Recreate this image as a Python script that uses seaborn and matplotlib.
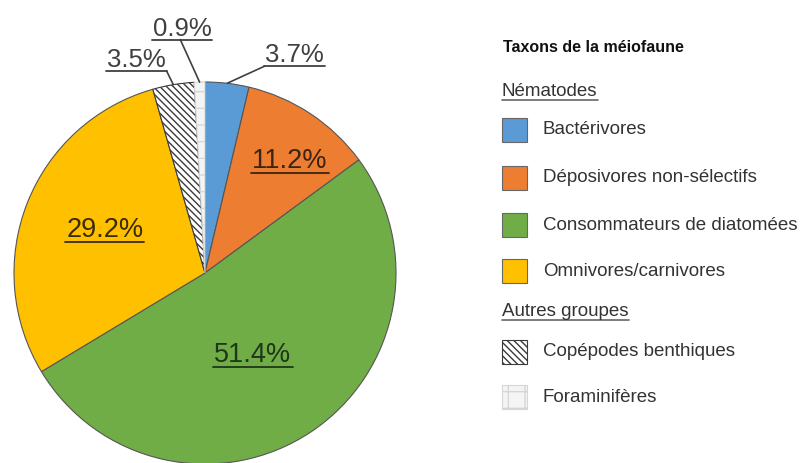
import matplotlib
matplotlib.use("Agg")
import matplotlib.pyplot as plt
import seaborn as sns
from matplotlib.patches import Rectangle
from matplotlib.lines import Line2D
import numpy as np

sns.set_theme(style="white")
plt.rcParams['font.family'] = ['Liberation Sans', 'DejaVu Sans']

# data
categories = ["Bactérivores", "Déposivores non-sélectifs", "Consommateurs de diatomées",
              "Omnivores/carnivores", "Copépodes benthiques", "Foraminifères"]
groups = ["Nématodes", "Nématodes", "Nématodes", "Nématodes", "Autres groupes", "Autres groupes"]
values = [3.7, 11.2, 51.4, 29.2, 3.5, 0.9]
labels = ["3.7%", "11.2%", "51.4%", "29.2%", "3.5%", "0.9%"]

colors = ["#5b9bd5", "#ed7d31", "#70ad47", "#ffc000", "#ffffff", "#f4f4f4"]
hatches = [None, None, None, None, "\\\\\\\\\\", "+"]
edges = ["#555555", "#555555", "#555555", "#555555", "#3a3a3a", "#d6d6d6"]

W, H = 800, 463
fig = plt.figure(figsize=(W / 100, H / 100), dpi=100)

cx, cy, R = 205, 273, 191
ax = fig.add_axes([(cx - R) / W, (H - cy - R) / H, 2 * R / W, 2 * R / H])
wedges, _ = ax.pie(values, colors=colors, startangle=90, counterclock=False,
                   radius=1, wedgeprops=dict(linewidth=0.8, edgecolor="#555555"))
for w, h, e in zip(wedges, hatches, edges):
    w.set_clip_on(False)
    if h:
        w.set_hatch(h)
        w.set_edgecolor(e)
ax.set_xlim(-1, 1)
ax.set_ylim(-1, 1)
ax.set_aspect("equal")
ax.axis("off")

# label placement (axes units): inside labels and outside labels with leader lines
inside = {1: ((0.445, 0.586), "#3b2412"),
          2: ((0.251, -0.429), "#1f3619"),
          3: ((-0.524, 0.225), "#3a2c05")}
outside = {0: (0.47, 1.14, 0.0), 5: (-0.12, 1.28, 0.47), 4: (-0.36, 1.115, 1.0)}

texts = []
for i, w in enumerate(wedges):
    mid = np.deg2rad((w.theta1 + w.theta2) / 2)
    if i in inside:
        xy, c = inside[i]
        t = ax.text(*xy, labels[i], ha="center", va="center", fontsize=19.5, color=c)
        texts.append((t, c, None))
    else:
        x, y, frac = outside[i]
        t = ax.text(x, y, labels[i], ha="center", va="center", fontsize=18.5, color="#404040")
        texts.append((t, "#404040", (np.cos(mid), np.sin(mid), frac)))

fig.canvas.draw()
renderer = fig.canvas.get_renderer()
inv = ax.transData.inverted()
for t, c, lead in texts:
    bb = t.get_window_extent(renderer)
    (x0, y0), (x1, _) = inv.transform([(bb.x0 - 1, bb.y0 + 1), (bb.x1 + 1, bb.y0 + 1)])
    ax.add_line(Line2D([x0, x1], [y0, y0], color=c, lw=1.3, clip_on=False))
    if lead:
        ex, ey, frac = lead
        ax.add_line(Line2D([ex, x0 + frac * (x1 - x0)], [ey, y0], color="#404040",
                           lw=1.2, clip_on=False))

# legend
def fx(px):
    return px / W

def fy(py):
    return 1 - py / H

fig.text(fx(503), fy(48), "Taxons de la méiofaune", fontsize=11.5, fontweight="bold",
         va="center", ha="left", color="#111111")

row_y = [130, 178, 225, 271, 352, 397]
head_y = {"Nématodes": 92, "Autres groupes": 312}
heads = []
for g, y in head_y.items():
    heads.append(fig.text(fx(502), fy(y), g, fontsize=13.5, va="center", ha="left",
                          color="#333333"))
for i, cat in enumerate(categories):
    y = row_y[i]
    rect = Rectangle((fx(502), fy(y + 12)), 25 / W, 24 / H, transform=fig.transFigure,
                     facecolor=colors[i],
                     edgecolor="#666666" if hatches[i] is None else edges[i],
                     linewidth=0.8, hatch=hatches[i])
    fig.add_artist(rect)
    fig.text(fx(543), fy(y), cat, fontsize=13.5, va="center", ha="left", color="#333333")

fig.canvas.draw()
for t in heads:
    bb = t.get_window_extent(renderer)
    fig.add_artist(Line2D([bb.x0 / W, bb.x1 / W], [(bb.y0 + 1) / H] * 2,
                          transform=fig.transFigure, color="#666666", lw=1.2))

fig.savefig("out.png", dpi=100)
